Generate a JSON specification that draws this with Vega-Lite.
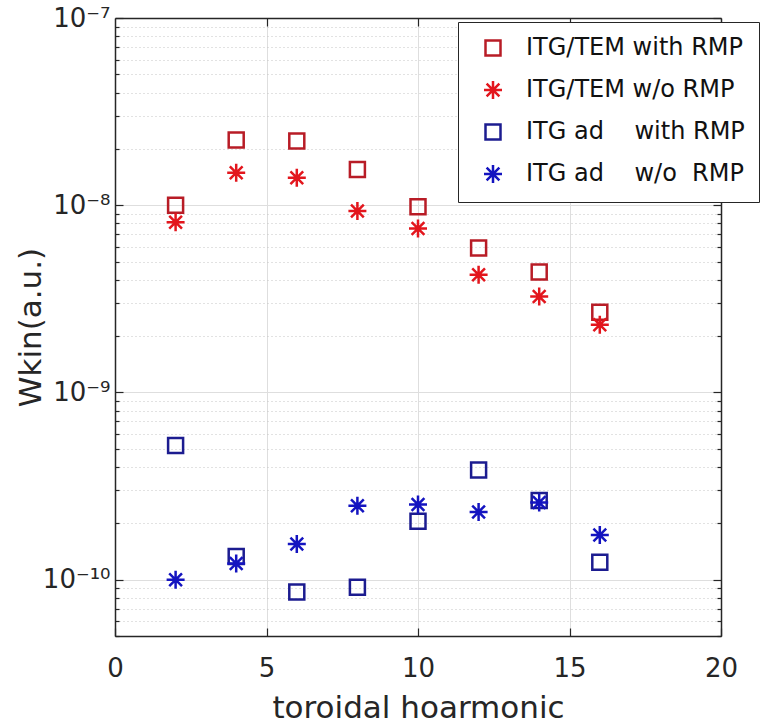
{
  "$schema": "https://vega.github.io/schema/vega-lite/v6.json",
  "width": 606,
  "height": 618,
  "autosize": "none",
  "padding": {"left": 115, "top": 18, "right": 41, "bottom": 87},
  "background": "white",
  "config": {
    "view": {"stroke": null},
    "font": "DejaVu Sans",
    "axis": {
      "domainColor": "#262626",
      "domainWidth": 1.5,
      "tickColor": "#262626",
      "tickWidth": 1.2,
      "labelColor": "#262626",
      "labelFont": "DejaVu Sans",
      "labelFontSize": 26,
      "labelFlush": false,
      "labelOverlap": false,
      "titleFont": "DejaVu Sans",
      "titleFontSize": 31,
      "titleFontWeight": "normal",
      "titleColor": "#262626"
    },
    "legend": {
      "orient": "none",
      "legendX": 343,
      "legendY": 4,
      "strokeColor": "#262626",
      "fillColor": "white",
      "padding": 14,
      "labelFont": "DejaVu Sans",
      "labelFontSize": 24,
      "labelColor": "#111111",
      "labelLimit": 400,
      "labelOffset": 21,
      "symbolOffset": 9,
      "symbolSize": 225,
      "symbolStrokeWidth": 2.5,
      "rowPadding": 15
    }
  },
  "data": {
    "values": [
      {"n": 2, "w": 1.0e-8, "s": "ITG/TEM with RMP"},
      {"n": 4, "w": 2.23e-8, "s": "ITG/TEM with RMP"},
      {"n": 6, "w": 2.2e-8, "s": "ITG/TEM with RMP"},
      {"n": 8, "w": 1.55e-8, "s": "ITG/TEM with RMP"},
      {"n": 10, "w": 9.8e-9, "s": "ITG/TEM with RMP"},
      {"n": 12, "w": 5.9e-9, "s": "ITG/TEM with RMP"},
      {"n": 14, "w": 4.4e-9, "s": "ITG/TEM with RMP"},
      {"n": 16, "w": 2.68e-9, "s": "ITG/TEM with RMP"},
      {"n": 2, "w": 8.1e-9, "s": "ITG/TEM w/o RMP"},
      {"n": 4, "w": 1.49e-8, "s": "ITG/TEM w/o RMP"},
      {"n": 6, "w": 1.4e-8, "s": "ITG/TEM w/o RMP"},
      {"n": 8, "w": 9.3e-9, "s": "ITG/TEM w/o RMP"},
      {"n": 10, "w": 7.5e-9, "s": "ITG/TEM w/o RMP"},
      {"n": 12, "w": 4.25e-9, "s": "ITG/TEM w/o RMP"},
      {"n": 14, "w": 3.25e-9, "s": "ITG/TEM w/o RMP"},
      {"n": 16, "w": 2.3e-9, "s": "ITG/TEM w/o RMP"},
      {"n": 2, "w": 5.2e-10, "s": "ITG ad\u00a0\u00a0\u00a0 with RMP"},
      {"n": 4, "w": 1.33e-10, "s": "ITG ad\u00a0\u00a0\u00a0 with RMP"},
      {"n": 6, "w": 8.6e-11, "s": "ITG ad\u00a0\u00a0\u00a0 with RMP"},
      {"n": 8, "w": 9.1e-11, "s": "ITG ad\u00a0\u00a0\u00a0 with RMP"},
      {"n": 10, "w": 2.05e-10, "s": "ITG ad\u00a0\u00a0\u00a0 with RMP"},
      {"n": 12, "w": 3.85e-10, "s": "ITG ad\u00a0\u00a0\u00a0 with RMP"},
      {"n": 14, "w": 2.65e-10, "s": "ITG ad\u00a0\u00a0\u00a0 with RMP"},
      {"n": 16, "w": 1.24e-10, "s": "ITG ad\u00a0\u00a0\u00a0 with RMP"},
      {"n": 2, "w": 1.0e-10, "s": "ITG ad\u00a0\u00a0\u00a0 w/o\u00a0 RMP"},
      {"n": 4, "w": 1.22e-10, "s": "ITG ad\u00a0\u00a0\u00a0 w/o\u00a0 RMP"},
      {"n": 6, "w": 1.55e-10, "s": "ITG ad\u00a0\u00a0\u00a0 w/o\u00a0 RMP"},
      {"n": 8, "w": 2.48e-10, "s": "ITG ad\u00a0\u00a0\u00a0 w/o\u00a0 RMP"},
      {"n": 10, "w": 2.52e-10, "s": "ITG ad\u00a0\u00a0\u00a0 w/o\u00a0 RMP"},
      {"n": 12, "w": 2.3e-10, "s": "ITG ad\u00a0\u00a0\u00a0 w/o\u00a0 RMP"},
      {"n": 14, "w": 2.58e-10, "s": "ITG ad\u00a0\u00a0\u00a0 w/o\u00a0 RMP"},
      {"n": 16, "w": 1.73e-10, "s": "ITG ad\u00a0\u00a0\u00a0 w/o\u00a0 RMP"}
    ]
  },
  "layer": [
    {
      "mark": {"type": "point", "filled": false, "strokeWidth": 2.5, "size": 225, "opacity": 1},
      "encoding": {
        "x": {
          "field": "n",
          "type": "quantitative",
          "scale": {"domain": [0, 20], "nice": false},
          "axis": {
            "values": [0, 5, 10, 15, 20],
            "title": "toroidal hoarmonic",
            "titlePadding": 12,
            "labelPadding": 27,
            "tickSize": -8,
            "grid": true,
            "gridColor": "#dedede",
            "gridWidth": 1
          }
        },
        "y": {
          "field": "w",
          "type": "quantitative",
          "scale": {"type": "log", "domain": [5e-11, 1e-7], "nice": false},
          "axis": {
            "values": [5e-11, 6e-11, 7e-11, 8e-11, 9e-11, 1e-10, 2e-10, 3e-10, 4e-10, 5e-10, 6e-10, 7e-10, 8e-10, 9e-10, 1e-9, 2e-9, 3e-9, 4e-9, 5e-9, 6e-9, 7e-9, 8e-9, 9e-9, 1e-8, 2e-8, 3e-8, 4e-8, 5e-8, 6e-8, 7e-8, 8e-8, 9e-8, 1e-7],
            "labelExpr": "datum.value == 1e-7 ? '10⁻⁷' : datum.value == 1e-8 ? '10⁻⁸' : datum.value == 1e-9 ? '10⁻⁹' : datum.value == 1e-10 ? '10⁻¹⁰' : ''",
            "labelPadding": 13,
            "title": "Wkin(a.u.)",
            "titleX": -68,
            "tickSize": {"condition": {"test": "datum.value == 1e-7 || datum.value == 1e-8 || datum.value == 1e-9 || datum.value == 1e-10", "value": -8}, "value": -4},
            "grid": true,
            "gridColor": {"condition": {"test": "datum.value == 1e-7 || datum.value == 1e-8 || datum.value == 1e-9 || datum.value == 1e-10", "value": "#dedede"}, "value": "#c4c4c4"},
            "gridDash": {"condition": {"test": "datum.value == 1e-7 || datum.value == 1e-8 || datum.value == 1e-9 || datum.value == 1e-10", "value": []}, "value": [1, 3]},
            "gridWidth": 1
          }
        },
        "color": {
          "field": "s",
          "type": "nominal",
          "title": null,
          "scale": {
            "domain": ["ITG/TEM with RMP", "ITG/TEM w/o RMP", "ITG ad\u00a0\u00a0\u00a0 with RMP", "ITG ad\u00a0\u00a0\u00a0 w/o\u00a0 RMP"],
            "range": ["#b81c26", "#e3161d", "#1c1c90", "#1414c0"]
          }
        },
        "shape": {
          "field": "s",
          "type": "nominal",
          "title": null,
          "scale": {
            "domain": ["ITG/TEM with RMP", "ITG/TEM w/o RMP", "ITG ad\u00a0\u00a0\u00a0 with RMP", "ITG ad\u00a0\u00a0\u00a0 w/o\u00a0 RMP"],
            "range": ["square", "M0,-1.2L0,1.2M-1.2,0L1.2,0M-0.85,-0.85L0.85,0.85M-0.85,0.85L0.85,-0.85", "square", "M0,-1.2L0,1.2M-1.2,0L1.2,0M-0.85,-0.85L0.85,0.85M-0.85,0.85L0.85,-0.85"]
          }
        }
      }
    },
    {
      "mark": {"type": "point", "opacity": 0},
      "encoding": {
        "x": {
          "field": "n",
          "type": "quantitative",
          "axis": {"orient": "top", "values": [5, 10, 15], "labels": false, "title": null, "grid": false, "tickSize": -8}
        },
        "y": {
          "field": "w",
          "type": "quantitative",
          "axis": {
            "orient": "right",
            "values": [5e-11, 6e-11, 7e-11, 8e-11, 9e-11, 1e-10, 2e-10, 3e-10, 4e-10, 5e-10, 6e-10, 7e-10, 8e-10, 9e-10, 1e-9, 2e-9, 3e-9, 4e-9, 5e-9, 6e-9, 7e-9, 8e-9, 9e-9, 1e-8, 2e-8, 3e-8, 4e-8, 5e-8, 6e-8, 7e-8, 8e-8, 9e-8, 1e-7],
            "labels": false,
            "title": null,
            "grid": false,
            "tickSize": {"condition": {"test": "datum.value == 1e-7 || datum.value == 1e-8 || datum.value == 1e-9 || datum.value == 1e-10", "value": -8}, "value": -4}
          }
        }
      }
    }
  ],
  "resolve": {"axis": {"x": "independent", "y": "independent"}}
}
